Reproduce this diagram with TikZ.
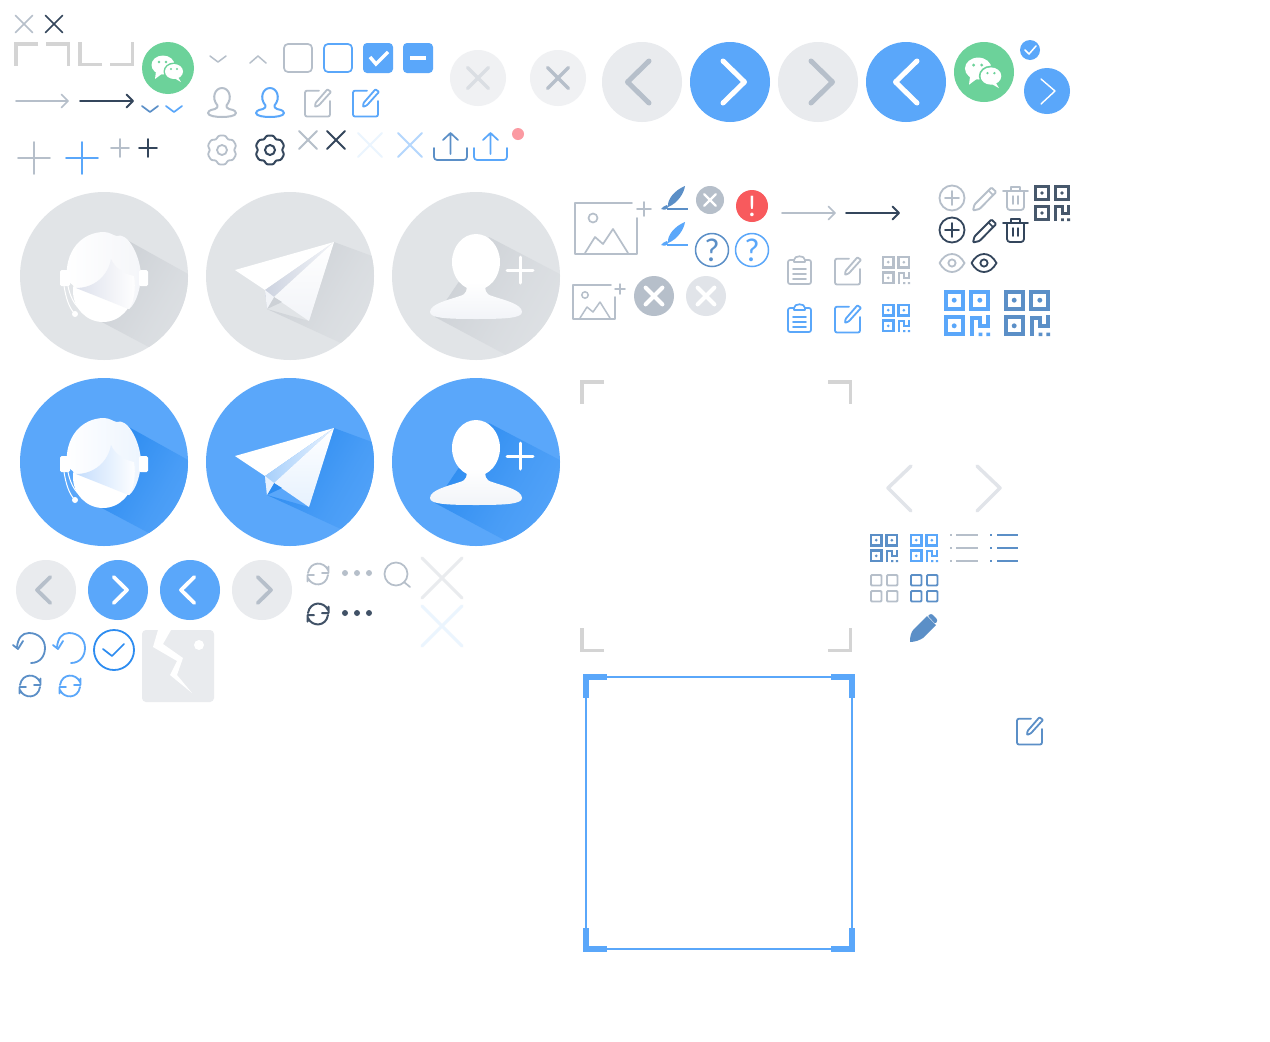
\documentclass[tikz,border=0pt]{standalone}
\usepackage{fontspec}
\setmainfont{Liberation Sans}
\newfontfamily\thinf{Carlito}
\definecolor{gl}{HTML}{B6BFCA}
\definecolor{dk}{HTML}{34465C}
\definecolor{bl}{HTML}{5AA7FA}
\definecolor{bm}{HTML}{5B8FC7}
\definecolor{bd}{HTML}{2D8CF0}
\definecolor{gn}{HTML}{6CD29A}
\definecolor{cn}{HTML}{D4D4D4}
\definecolor{pl}{HTML}{E9EBEE}
\definecolor{bg}{HTML}{E1E4E7}
\definecolor{sg}{HTML}{CDD1D6}
\definecolor{rd}{HTML}{F85A5D}
\definecolor{pk}{HTML}{FB9AA2}
\definecolor{wg}{HTML}{DDE1EC}
\definecolor{wb}{HTML}{C4DDFC}
\definecolor{mg}{HTML}{CDD3E0}
\definecolor{mb}{HTML}{A8D0FB}
\definecolor{eg}{HTML}{F2F4F8}
\definecolor{eb}{HTML}{E6F1FE}
\tikzset{ln/.style={line cap=round,line join=round},
 shd/.style 2 args={left color=#1,right color=#2,middle color=#1!40!#2,shading angle=60}}
% cross: x y half colour lw
\newcommand{\icoX}[5]{\draw[ln,#4,line width=#5] ({#1-#3},{#2-#3})--({#1+#3},{#2+#3}) ({#1+#3},{#2-#3})--({#1-#3},{#2+#3});}
% plus
\newcommand{\icoP}[5]{\draw[ln,#4,line width=#5] ({#1-#3},#2)--({#1+#3},#2) (#1,{#2-#3})--(#1,{#2+#3});}
% chevron: x y halfheight width(sign) colour lw
\newcommand{\icoC}[6]{\draw[ln,#5,line width=#6] ({#1-(#4)},{#2-#3})--({#1},#2)--({#1-(#4)},{#2+#3});}
% circle buttons: x y fill dir colour
\newcommand{\btnA}[5]{\fill[#3] (#1,#2) circle[radius=40];\icoC{#1+(#4)*14.5}{#2}{21}{(#4)*21.5}{#5}{5}}
\newcommand{\btnB}[5]{\fill[#3] (#1,#2) circle[radius=30];\icoC{#1+(#4)*9}{#2}{13}{(#4)*13.3}{#5}{3.8}}
% corner: x y sx sy len thick colour
\newcommand{\corn}[7]{\begin{scope}[shift={(#1,#2)},xscale=#3,yscale=#4]\draw[#7,line width=#6,line cap=butt,miter limit=10] (#5,#6/2)--(#6/2,#6/2)--(#6/2,#5);\end{scope}}
% arrow x1 x2 y colour lw head
\newcommand{\arr}[6]{\draw[ln,#4,line width=#5] (#1,#3)--(#2,#3) ({#2-#6},{#3-#6})--(#2,#3)--({#2-#6},{#3+#6});}
\newcommand{\wechat}[3]{\begin{scope}[shift={(#1,#2)},scale=#3/26]
\fill[gn] (0,0) circle[radius=26];
\fill[white] (-5,-3) circle[x radius=11.5,y radius=9.5];
\fill[white] (-12,3)--(-13,11)--(-5,5)--cycle;
\fill[gn] (6,3.5) circle[x radius=10.5,y radius=9];
\fill[white] (6,3.5) circle[x radius=9,y radius=7.5];
\fill[white] (10,9)--(13,14)--(6,10)--cycle;
\fill[gn] (-9,-6) circle[radius=1.4] (-2,-6) circle[radius=1.4] (3,1) circle[radius=1.1] (9,1) circle[radius=1.1];
\end{scope}}
\newcommand{\person}[5]{\begin{scope}[shift={(#1,#2)},scale=#3]
\draw[ln,#4,line width=#5] (9.5,18.5) .. controls (3,11) and (7,1) .. (14,1) .. controls (21,1) and (25,11) .. (18.5,18.5) .. controls (18,20) and (19,21) .. (21,22) .. controls (27,23) and (28,25) .. (28,26) .. controls (28,29) and (20,30) .. (14,30) .. controls (8,30) and (0,29) .. (0,26) .. controls (0,25) and (1,23) .. (7,22) .. controls (9,21) and (10,20) .. (9.5,18.5) -- cycle;
\end{scope}}
\newcommand{\edit}[5]{\begin{scope}[shift={(#1,#2)},scale=#3]
\draw[ln,#4,line width=#5,rounded corners=2] (15,2.7)--(1,2.7)--(1,28.5)--(26,28.5)--(26,13);
\draw[ln,#4,line width=#5,rounded corners=0.8] (11,19)--(11.5,15)--(23.4,1.3)--(27,3.9)--(15,17.2)--cycle;
\end{scope}}
\newcommand{\gear}[5]{\begin{scope}[shift={(#1,#2)},scale=#3]
\draw[#4,line width=#5,rounded corners=2.2,line join=round] (75:15)--(105:15)--(120:11.5)--(135:15)--(165:15)--(180:11.5)--(195:15)--(225:15)--(240:11.5)--(255:15)--(285:15)--(300:11.5)--(315:15)--(345:15)--(0:11.5)--(15:15)--(45:15)--(60:11.5)--cycle;
\draw[#4,line width=#5] (0,0) circle[radius=5];
\end{scope}}
\newcommand{\upl}[3]{\begin{scope}[shift={(#1,#2)}]
\draw[ln,#3,line width=1.7,rounded corners=3] (0,16)--(0,28)--(33,28)--(33,16);
\draw[ln,#3,line width=1.7] (16.5,1)--(16.5,22) (9,8)--(16.5,1)--(24,8);
\end{scope}}
% qr: x y size colour
\newcommand{\qr}[4]{\begin{scope}[shift={(#1,#2)},scale=#3/28]
\pgfmathsetmacro{\qw}{0.1*#3-0.5}
\draw[#4,line width=\qw] (1,1) rectangle (11.5,11.5) (16.5,1) rectangle (27,11.5) (1,16.5) rectangle (11.5,27);
\fill[#4] (6.2,6.2) circle[radius=1.5] (21.8,6.2) circle[radius=1.5] (6.2,21.8) circle[radius=1.5];
\draw[#4,line width=\qw] (17,28)--(17,17)--(22,17)--(22,22)--(27,22)--(27,15.5);
\fill[#4] (21,26) rectangle (23.3,28) (25.8,26) rectangle (28,28);
\end{scope}}
\newcommand{\sync}[5]{\begin{scope}[shift={(#1,#2)},scale=#3]
\draw[ln,#4,line width=#5] (-10,-1) .. controls (-8,-13) and (6,-13) .. (10,-4) (10.5,-7.5)--(10.5,-1)--(4,-1);
\draw[ln,#4,line width=#5] (10,1) .. controls (8,13) and (-6,13) .. (-10,4) (-10.5,7.5)--(-10.5,1)--(-4,1);
\end{scope}}
\newcommand{\undo}[3]{\begin{scope}[shift={(#1,#2)}]
\draw[ln,#3,line width=1.8] (2,15) .. controls (11,15) and (16,8) .. (16,0) .. controls (16,-9) and (9,-15) .. (0,-15) .. controls (-7,-15) and (-11,-10) .. (-12,-1);
\draw[ln,#3,line width=1.8] (-16,-3)--(-11,1)--(-6,-7);
\end{scope}}
\newcommand{\clipb}[3]{\begin{scope}[shift={(#1,#2)}]
\draw[ln,#3,line width=1.7,rounded corners=2] (7,4)--(1,4)--(1,28)--(24,28)--(24,4)--(18,4);
\draw[ln,#3,line width=1.7] (7,6)--(7,4) .. controls (7,-1) and (18,-1) .. (18,4)--(18,6)--cycle;
\draw[ln,#3,line width=1.7] (6,13)--(19,13) (6,18)--(19,18) (6,23)--(19,23);
\end{scope}}
\newcommand{\penc}[3]{\begin{scope}[shift={(#1,#2)}]
\draw[ln,#3,line width=1.9,rounded corners=1] (1,24.5)--(2.5,18.5)--(19.5,1.5)--(24.2,6)--(7.5,23)--cycle;
\draw[ln,#3,line width=1.5] (16.5,4.5)--(21,9);
\end{scope}}
\newcommand{\trash}[3]{\begin{scope}[shift={(#1,#2)}]
\draw[ln,#3,line width=1.8] (0,5)--(25,5) (8,5)--(8,1)--(17,1)--(17,5);
\draw[ln,#3,line width=1.8,rounded corners=3] (4,5)--(4,24)--(21,24)--(21,5);
\draw[ln,#3,line width=1.5] (10,10)--(10,18) (15,10)--(15,18);
\end{scope}}
\newcommand{\eye}[3]{\begin{scope}[shift={(#1,#2)}]
\draw[ln,#3,line width=1.8] (-12.5,0) .. controls (-6,-12) and (6,-12) .. (12.5,0) .. controls (6,12) and (-6,12) .. (-12.5,0)--cycle;
\draw[#3,line width=1.8] (0,0) circle[radius=3.6];
\end{scope}}
\newcommand{\brush}[3]{\begin{scope}[shift={(#1,#2)}]
\fill[#3] (25,0) .. controls (24,7) and (18,17) .. (8,21) .. controls (7,13) and (15,4) .. (25,0)--cycle;
\fill[#3] (7,19) .. controls (4,19) and (3,22) .. (1,23) .. controls (4,24) and (7,24) .. (8,21)--cycle;
\draw[#3,line width=1.5] (7,23)--(28,23);
\end{scope}}
\newcommand{\xbtn}[5]{\fill[#4] (#1,#2) circle[radius=#3]; \icoX{#1}{#2}{0.42*#3}{white}{#5}}
% big icons: x y dark base wedge
\newcommand{\headbig}[5]{\begin{scope}[shift={(#1,#2)}]
\fill[#4] (0,0) circle[radius=84];
\begin{scope}\clip (0,0) circle[radius=84];
\shade[shd={#3}{#4}] (23,-36)--(120,18)--(120,100)--(90,95)--(-6,44)--cycle;
\end{scope}
\fill[white] (-1,15) circle[x radius=30,y radius=31];
\shade[left color=white,right color=#5!30!white] (-37,4) .. controls (-40,-25) and (-22,-44) .. (0,-44) .. controls (6,-44) and (10,-40) .. (13,-40) .. controls (22,-44) and (35,-25) .. (37,-2) .. controls (37,10) and (33,27) .. (25,33)--(-28,12)--cycle;
\shade[left color=#5,right color=white] (-28,12) .. controls (-10,12) and (4,0) .. (7,-17) .. controls (11,-8) and (20,-2) .. (30,0) .. controls (32,12) and (30,27) .. (25,33)--cycle;
\fill[white,rounded corners=1.5] (-44,-6) rectangle (-34,10) (35,-6) rectangle (44,10);
\draw[white,line width=1] (-40,10) .. controls (-38,22) and (-35,32) .. (-29,38) (-36,10) .. controls (-34,20) and (-30,28) .. (-25,32) (-28,12) .. controls (-29,20) and (-27,28) .. (-24,32);
\fill[white] (-29,38) circle[radius=3];
\end{scope}}
\newcommand{\planebig}[6]{\begin{scope}[shift={(#1,#2)}]
\fill[#4] (0,0) circle[radius=84];
\begin{scope}\clip (0,0) circle[radius=84];
\shade[shd={#3}{#4}] (44,-34)--(120,-6)--(120,90)--(90,85)--(-23,33)--(19,45)--cycle;
\end{scope}
\fill[white] (44,-34)--(-55,-6)--(-25,14)--cycle;
\shade[left color=#5,right color=#6] (44,-34)--(-25,14)--(-23,33)--(-16,21)--cycle;
\shade[bottom color=#6,top color=white] (44,-34)--(-16,21)--(19,45)--cycle;
\fill[#3] (-23,33)--(-16,21)--(-8,26)--cycle;
\fill[#6] (-16,21)--(-23,33)--(-25,14)--cycle;
\end{scope}}
\newcommand{\personbig}[4]{\begin{scope}[shift={(#1,#2)}]
\fill[#4] (0,0) circle[radius=84];
\begin{scope}\clip (0,0) circle[radius=84];
\shade[shd={#3}{#4}] (13,-39)--(120,17)--(120,95)--(60,95)--(-41,41)--cycle;
\end{scope}
\fill[white] (0,-14) circle[x radius=24,y radius=28];
\shade[top color=white,bottom color=eg] (-9,6)--(9,6) .. controls (9,14) and (9,18) .. (16,20) .. controls (28,24) and (46,28) .. (46,36) .. controls (46,42) and (30,43) .. (0,43) .. controls (-30,43) and (-46,42) .. (-46,36) .. controls (-46,28) and (-28,24) .. (-16,20) .. controls (-9,18) and (-9,14) .. (-9,6)--cycle;
\icoP{44}{-6}{13}{white}{3}
\end{scope}}
\begin{document}
\begin{tikzpicture}[x=1pt,y=-1pt]
\useasboundingbox (0,0) rectangle (1270,1042);
\fill[white] (0,0) rectangle (1270,1042);
% top-left
\icoX{24}{24}{8.5}{gl}{1.7}
\icoX{54}{24}{8.5}{dk}{1.7}
\corn{14}{42}{1}{1}{24}{3.5}{cn}
\corn{70}{42}{-1}{1}{24}{3.5}{cn}
\corn{78}{66}{1}{-1}{24}{3.5}{cn}
\corn{134}{66}{-1}{-1}{24}{3.5}{cn}
\wechat{168}{68}{26}
\draw[ln,gl,line width=1.5] (210,56)--(218,62)--(226,56);
\draw[ln,gl,line width=1.5] (250,63)--(258,56)--(266,63);
\draw[gl,line width=1.7,rounded corners=4] (284,44) rectangle (312,72);
\draw[bl,line width=1.7,rounded corners=4] (324,44) rectangle (352,72);
\fill[bl,rounded corners=4] (363,43) rectangle (393,73);
\draw[white,line width=3.5] (370,57)--(376,64)--(388,52);
\fill[bl,rounded corners=4] (403,43) rectangle (433,73);
\fill[white] (410,55.5) rectangle (426,60);
\fill[pl!70!white] (478,78) circle[radius=28];\icoX{478}{78}{10.5}{pl!70!gl}{3.5}
\fill[pl!70!white] (558,78) circle[radius=28];\icoX{558}{78}{10.5}{gl}{3.5}
\arr{16}{68}{101}{gl}{1.7}{6.5}
\arr{80}{133}{101}{dk}{1.9}{6.5}
\draw[ln,bm,line width=1.7] (142,106)--(150,112)--(158,106);
\draw[ln,bl,line width=1.7] (166,106)--(174,112)--(182,106);
\person{208}{87}{1}{gl}{2}
\person{256}{87}{1}{bl}{2}
\edit{304}{88}{1}{gl}{1.8}
\edit{352}{88}{1}{bl}{1.8}
\icoP{34}{158}{16}{gl}{1.9}
\icoP{82}{158}{16}{bl}{1.9}
\icoP{120}{148}{9}{gl}{1.9}
\icoP{148}{148}{9}{dk}{1.9}
\gear{222}{150}{1}{gl}{1.8}
\gear{270}{150}{1}{dk}{2}
\icoX{308}{140}{9}{gl}{1.8}
\icoX{336}{140}{9}{dk}{1.8}
\icoX{370}{145}{12}{bl!12!white}{1.8}
\icoX{410}{145}{12}{bl!45!white}{1.8}
\upl{434}{132}{bm}
\upl{474}{132}{bl}
\fill[pk] (518,134) circle[radius=6];
% top right buttons
\btnA{642}{82}{pl}{-1}{gl}
\btnA{730}{82}{bl}{1}{white}
\btnA{818}{82}{pl}{1}{gl}
\fill[bl] (906,82) circle[radius=40];
\icoC{895.5}{82}{21}{-21.5}{white}{5}
\wechat{984}{72}{30}
\fill[bl] (1030,50) circle[radius=10];
\draw[ln,white,line width=1.5] (1025,50)--(1029,54)--(1036,46);
\fill[bl] (1047,91) circle[radius=23];
\draw[ln,white,line width=1.4] (1041,79)--(1055,91)--(1041,104);
% big icons
\headbig{104}{276}{sg}{bg}{wg}
\planebig{290}{276}{sg}{bg}{mg}{eg}
\personbig{476}{276}{sg}{bg}
\headbig{104}{462}{bd}{bl}{wb}
\planebig{290}{462}{bd}{bl}{mb}{eb}
\personbig{476}{462}{bd}{bl}
% image icons
\draw[ln,gl,line width=1.8] (632,203)--(575,203)--(575,254)--(637,254)--(637,218);
\draw[gl,line width=1.7] (593,218) circle[radius=4.5];
\draw[ln,gl,line width=1.7] (585,253)--(595,237)--(603,244)--(613,229)--(628,253);
\icoP{644}{209}{7}{gl}{1.7}
\draw[ln,gl,line width=1.6] (611,285)--(573,285)--(573,319)--(615,319)--(615,297);
\draw[gl,line width=1.5] (585,295) circle[radius=3.2];
\draw[ln,gl,line width=1.5] (580,318)--(587,307)--(593,312)--(600,302)--(610,318);
\icoP{620}{289}{5}{gl}{1.5}
\brush{660}{186}{bm}
\brush{660}{222}{bl}
\xbtn{710}{200}{14}{gl}{2.4}
\fill[rd] (752,206) circle[radius=16];
\node (alert) at (752,206) [text=white,font=\thinf\fontsize{30}{30}\selectfont,inner sep=0pt] {!};
\draw[bm,line width=1.5] (712,250) circle[radius=16.5];
\node (qa) at (712,250) [text=bm,font=\thinf\fontsize{33}{33}\selectfont,inner sep=0pt] {?};
\draw[bl,line width=1.5] (752,250) circle[radius=16.5];
\node (qb) at (752,250) [text=bl,font=\thinf\fontsize{33}{33}\selectfont,inner sep=0pt] {?};
\xbtn{654}{296}{20}{gl}{4}
\xbtn{706}{296}{20}{pl!85!gl}{4}
\arr{782}{835}{213}{gl}{1.7}{6.5}
\arr{846}{899}{213}{dk}{1.9}{6.5}
\clipb{787}{256}{gl}
\clipb{787}{304}{bl}
\edit{834}{256}{1}{gl}{1.8}
\edit{834}{304}{1}{bl}{1.8}
\qr{882}{256}{28}{gl}
\qr{882}{304}{28}{bl}
\draw[gl,line width=1.8] (952,198) circle[radius=12.5];\icoP{952}{198}{7}{gl}{1.8}
\draw[dk,line width=1.8] (952,230) circle[radius=12.5];\icoP{952}{230}{7}{dk}{1.8}
\penc{972}{186}{gl}
\penc{972}{218}{dk}
\trash{1003}{186}{gl}
\trash{1003}{218}{dk}
\qr{1034}{185}{36}{dk!85!gl}
\eye{952}{263}{gl}
\eye{984}{263}{dk}
\qr{944}{290}{46}{bl}
\qr{1004}{290}{46}{bm}
% frame with gray corners
\corn{580}{380}{1}{1}{24}{3.5}{cn}
\corn{852}{380}{-1}{1}{24}{3.5}{cn}
\corn{580}{652}{1}{-1}{24}{3.5}{cn}
\corn{852}{652}{-1}{-1}{24}{3.5}{cn}
\draw[ln,pl!85!gl,line width=3.5] (911,466)--(888,488)--(911,511);
\draw[ln,pl!85!gl,line width=3.5] (977,466)--(1000,488)--(977,511);
\qr{870}{534}{28}{bm}
\qr{910}{534}{28}{bl}
\foreach \yy in {535,548,561}{
\draw[gl,line width=1.6] (950,\yy)--(952,\yy) (956,\yy)--(978,\yy);
\draw[bm,line width=1.6] (990,\yy)--(992,\yy) (997,\yy)--(1018,\yy);}
\foreach \xx in {871,887}{\foreach \yy in {575,591}{
\draw[gl,line width=1.9,rounded corners=1] (\xx,\yy) rectangle ++(10.5,10.5);
\draw[bm,line width=1.9,rounded corners=1] ({\xx+40},\yy) rectangle ++(10.5,10.5);}}
\fill[bm] (910,642) .. controls (910,636) and (911,632) .. (914,629)--(927,616)--(936,625)--(923,638) .. controls (920,640) and (915,642) .. (910,642)--cycle;
\fill[bm,rounded corners=1] (929,614.5)--(932,614)--(937,619)--(937,622)--(935,623.5)--(928,616)--cycle;
% blue frame
\draw[bl,line width=2] (586,677) rectangle (852,949);
\corn{583}{674}{1}{1}{24}{6}{bl}
\corn{855}{674}{-1}{1}{24}{6}{bl}
\corn{583}{952}{1}{-1}{24}{6}{bl}
\corn{855}{952}{-1}{-1}{24}{6}{bl}
\edit{1016}{716}{1}{bm}{1.8}
% lower left
\btnB{46}{590}{pl}{-1}{gl}
\btnB{118}{590}{bl}{1}{white}
\btnB{190}{590}{bl}{-1}{white}
\btnB{262}{590}{pl}{1}{gl}
\sync{318}{574}{1}{gl}{1.8}
\sync{318}{614}{1}{dk!90!gl}{2}
\fill[gl] (345,573) circle[radius=3] (357,573) circle[radius=3] (369,573) circle[radius=3];
\fill[dk!90!gl] (345,613) circle[radius=3] (357,613) circle[radius=3] (369,613) circle[radius=3];
\draw[gl,line width=1.7] (396,574) circle[radius=11.5];
\draw[ln,gl,line width=1.7] (404,582)--(410,587);
\icoX{442}{578}{20}{pl}{3}
\icoX{442}{626}{20}{bl!12!white}{3}
\undo{29}{648}{bm}
\undo{69}{648}{bl}
\draw[bd,line width=1.8] (114,650) circle[radius=20];
\draw[ln,bd,line width=1.7] (103,649)--(112,656)--(124,644);
\sync{30}{686}{1}{bm}{1.8}
\sync{70}{686}{1}{bl}{1.8}
\fill[pl,rounded corners=4] (142,630) rectangle (214,702);
\fill[white] (158,630)--(171,630)--(163,644)--(183,658)--(177,675)--(192,693)--(170,675)--(177,661)--(153,647)--cycle;
\fill[white] (199,645) circle[radius=5];
\end{tikzpicture}
\end{document}
